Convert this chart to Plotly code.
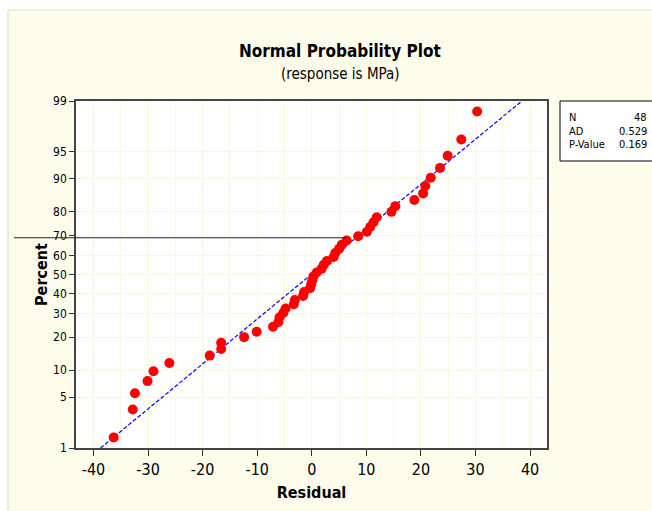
import plotly.graph_objects as go
from statistics import NormalDist

# ---- data ----
residuals = [-36.3, -32.8, -32.4, -30.1, -29.0, -26.1, -18.7, -16.6, -16.6, -12.4,
             -10.1, -7.1, -6.1, -5.9, -5.2, -4.8, -3.3, -3.1, -1.6, -1.4,
             -0.3, -0.1, 0.1, 0.3, 0.9, 1.8, 2.2, 2.8, 4.0, 4.3,
             5.0, 5.5, 6.4, 8.5, 10.1, 10.7, 11.3, 11.9, 14.6, 15.3,
             18.8, 20.4, 20.8, 21.8, 23.5, 24.9, 27.4, 30.3]
percents = [1.446, 3.512, 5.579, 7.645, 9.711, 11.777, 13.843, 15.909, 17.975, 20.041,
            22.107, 24.174, 26.240, 28.306, 30.372, 32.438, 34.504, 36.570, 38.636, 40.702,
            42.769, 44.835, 46.901, 48.967, 51.033, 53.099, 55.165, 57.231, 59.298, 61.364,
            63.430, 65.496, 67.562, 69.628, 71.694, 73.760, 75.826, 77.893, 79.959, 82.025,
            84.091, 86.157, 88.223, 90.289, 92.355, 94.421, 96.488, 98.554]
fit_x = [-38.7, 38.5]
fit_pct = [1, 99]
y_ticks = [1, 5, 10, 20, 30, 40, 50, 60, 70, 80, 90, 95, 99]
x_ticks = [-40, -30, -20, -10, 0, 10, 20, 30, 40]
stats_labels = ["N", "AD", "P-Value"]
stats_values = ["48", "0.529", "0.169"]
ref_pct = 68.9
ref_x_end = 6.3

nd = NormalDist()
def probit(p):
    return nd.inv_cdf(p / 100.0)

FONT = "DejaVu Sans Condensed, Liberation Sans Narrow, DejaVu Sans, sans-serif"

xmin, xmax = -43.2, 43.1
ymin, ymax = probit(1), probit(99)

fig = go.Figure()
fig.add_trace(go.Scatter(
    x=fit_x, y=[probit(p) for p in fit_pct], mode="lines",
    line=dict(color="#0000FF", width=1.2, dash="4px,2px"), hoverinfo="skip",
    showlegend=False))
fig.add_trace(go.Scatter(
    x=residuals, y=[probit(p) for p in percents], mode="markers",
    marker=dict(color="#FF0000", size=10, line=dict(width=0)),
    showlegend=False, cliponaxis=False))

# layout geometry
L, R, T, B = 76, 105, 101, 63
W, H = 652, 511
pw, ph = W - L - R, H - T - B
def px(x):
    return (x - L) / pw
def py(y):
    return (H - B - y) / ph

shapes = [
    dict(type="rect", xref="paper", yref="paper", x0=px(8), x1=px(660), y0=py(520), y1=py(10),
         fillcolor="#FEFDEB", line=dict(color="#DCDCCC", width=1), layer="below"),
    dict(type="rect", xref="paper", yref="paper", x0=0, x1=1, y0=0, y1=1,
         fillcolor="#FFFFFF", line=dict(width=0), layer="below"),
    dict(type="rect", xref="paper", yref="paper", x0=px(560), x1=px(660), y0=py(161), y1=py(101),
         fillcolor="#FFFFFF", line=dict(color="#000000", width=1)),
    dict(type="line", xref="paper", yref="paper",
         x0=px(14), x1=(ref_x_end - xmin) / (xmax - xmin),
         y0=(probit(ref_pct) - ymin) / (ymax - ymin), y1=(probit(ref_pct) - ymin) / (ymax - ymin),
         line=dict(color="#202020", width=1.2)),
]

annotations = [
    dict(text="<b>Normal Probability Plot</b>", x=px(340), y=py(51), xref="paper", yref="paper",
         showarrow=False, font=dict(family=FONT, size=17, color="#000"), xanchor="center", yanchor="middle"),
    dict(text="(response is MPa)", x=px(340), y=py(74), xref="paper", yref="paper",
         showarrow=False, font=dict(family=FONT, size=15, color="#000"), xanchor="center", yanchor="middle"),
]
row_y = [118, 131, 144]
for lab, val, yy in zip(stats_labels, stats_values, row_y):
    annotations.append(dict(text=lab, x=px(567), y=py(yy), xref="paper", yref="paper", showarrow=False,
                            font=dict(family=FONT, size=11, color="#000"), xanchor="left", yanchor="middle"))
    annotations.append(dict(text=val, x=px(649), y=py(yy), xref="paper", yref="paper", showarrow=False,
                            font=dict(family=FONT, size=11, color="#000"), xanchor="right", yanchor="middle"))

fig.update_layout(
    width=W, height=H,
    margin=dict(l=L, r=R, t=T, b=B, pad=0),
    paper_bgcolor="#FFFFFF", plot_bgcolor="rgba(0,0,0,0)",
    shapes=shapes, annotations=annotations,
    font=dict(family=FONT, color="#000"),
    xaxis=dict(range=[xmin, xmax], tickvals=x_ticks, ticktext=[str(t) for t in x_ticks],
               ticks="outside", ticklen=6, tickwidth=1.2,
               tickcolor="#333", showgrid=True, gridcolor="#FBF7DC", gridwidth=1,
               minor=dict(dtick=5, tick0=0, showgrid=True, gridcolor="#FBF7DC", ticks=""),
               showline=True, linecolor="#444", linewidth=1.6, mirror=True, zeroline=False,
               tickfont=dict(family=FONT, size=16, color="#000"),
               title=dict(text="<b>Residual</b>", font=dict(family=FONT, size=16, color="#000"), standoff=9)),
    yaxis=dict(range=[ymin, ymax], tickvals=[probit(p) for p in y_ticks], ticktext=[str(p) for p in y_ticks],
               ticks="outside", ticklen=5, tickwidth=1.2, tickcolor="#333",
               showgrid=True, gridcolor="#FBF7DC", gridwidth=1,
               showline=True, linecolor="#444", linewidth=1.6, mirror=True, zeroline=False,
               tickfont=dict(family=FONT, size=12, color="#000"),
               title=dict(text="<b>Percent</b>", font=dict(family=FONT, size=16, color="#000"), standoff=1)),
)

fig.write_html("out.html", config={"displayModeBar": False},
               post_script="document.body.style.margin='0';document.body.style.overflow='hidden';")
